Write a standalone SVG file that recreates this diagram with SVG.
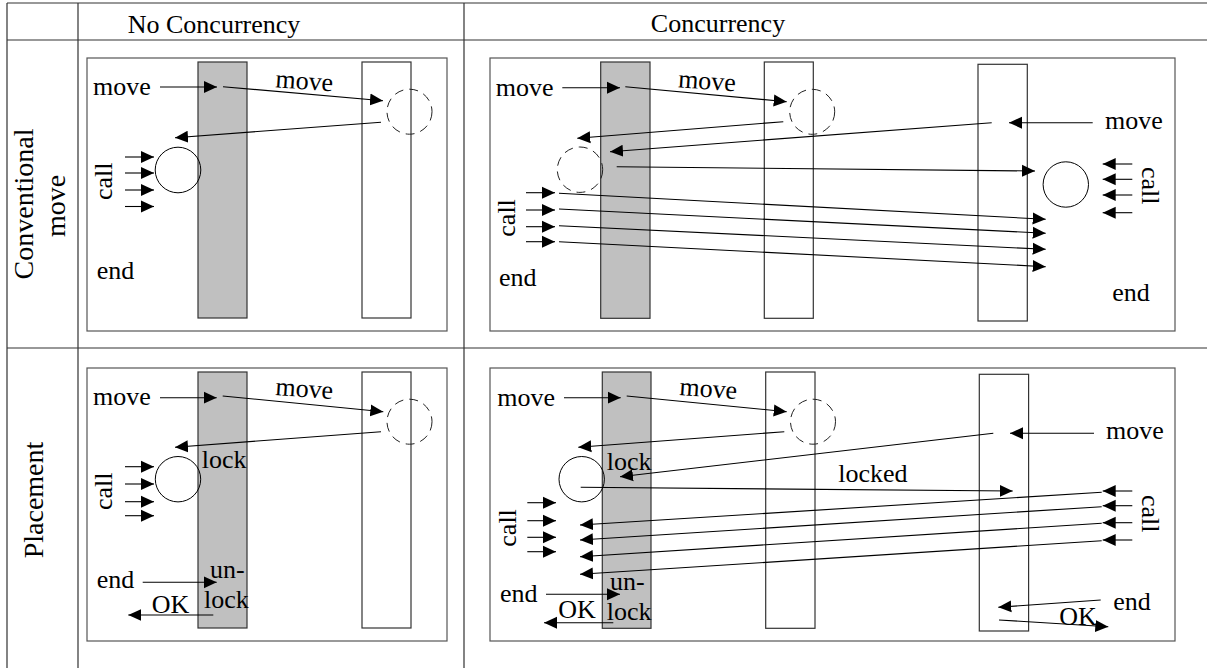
<svg xmlns="http://www.w3.org/2000/svg" width="1207" height="668" viewBox="0 0 1207 668" font-family="'Liberation Serif', 'Times New Roman', 'DejaVu Serif', serif">
<style>
text{font-family:'Liberation Serif','Times New Roman','DejaVu Serif',serif;font-size:26px;fill:#000}
.hdr{font-size:26px}
.row{font-size:28px}
.grid{stroke:#333;stroke-width:1.2;fill:none}
.panel{fill:#fff;stroke:#555;stroke-width:1.2}
.bar{fill:#c0c0c0;stroke:#333;stroke-width:1.2}
.wbar{fill:#fff;stroke:#333;stroke-width:1.2}
.circ{fill:none;stroke:#000;stroke-width:1}
.dcirc{fill:none;stroke:#222;stroke-width:1;stroke-dasharray:9,6}
.ar{stroke:#000;stroke-width:1.1;fill:none;marker-end:url(#ah)}
</style>
<defs>
<marker id="ah" markerUnits="userSpaceOnUse" markerWidth="14" markerHeight="13" refX="13" refY="6" orient="auto" viewBox="0 0 14 12">
<path d="M0,0 L13,6 L0,12 Z" fill="#000"/>
</marker>
</defs>
<rect width="1207" height="668" fill="#fff"/>
<g id="table">
<path class="grid" d="M7,3 H1207 M7,40 H1207 M7,348 H1207 M7,3 V668 M78,3 V668 M464,3 V668"/>
<text class="hdr" x="214" y="33" text-anchor="middle">No Concurrency</text>
<text class="hdr" x="718" y="32" text-anchor="middle">Concurrency</text>
<text class="row" transform="translate(33,204) rotate(-90)" text-anchor="middle">Conventional</text>
<text class="row" transform="translate(65,206) rotate(-90)" text-anchor="middle">move</text>
<text class="row" transform="translate(42.5,500) rotate(-90)" text-anchor="middle">Placement</text>
</g>

<g id="p1">
<rect class="panel" x="87" y="58" width="360" height="273"/>
<rect id="p1-bar1" class="bar" x="198" y="62" width="49" height="256"/>
<rect id="p1-bar2" class="wbar" x="362" y="62" width="49" height="256"/>
<circle id="p1-dc" class="dcirc" cx="409.5" cy="111.7" r="22.5"/>
<circle id="p1-c" class="circ" cx="178" cy="170" r="22.8"/>
<text x="93" y="95">move</text>
<text transform="translate(275,87.3) rotate(4)">move</text>
<text transform="translate(111.5,200) rotate(-90)">call</text>
<text x="96.7" y="279">end</text>
</g>
<g id="p1-connectors">
<path class="ar" d="M160,87 L217,87"/>
<path class="ar" d="M223,86.7 L383,100.7"/>
<path class="ar" d="M381,122.3 L175,137.7"/>
<path class="ar" d="M125,157 L154,157"/>
<path class="ar" d="M125,173 L154,173"/>
<path class="ar" d="M125,190 L154,190"/>
<path class="ar" d="M125,206.5 L154,206.5"/>
</g>

<g id="p2">
<rect class="panel" x="87" y="368" width="360" height="273"/>
<rect id="p2-bar1" class="bar" x="198" y="372" width="49" height="256"/>
<rect id="p2-bar2" class="wbar" x="362" y="372" width="49" height="256"/>
<circle id="p2-dc" class="dcirc" cx="409.5" cy="421.7" r="22.5"/>
<circle id="p2-c" class="circ" cx="178" cy="479.2" r="22.7"/>
<text x="93" y="405">move</text>
<text transform="translate(275,395) rotate(4)">move</text>
<text x="201.7" y="468.3">lock</text>
<text transform="translate(112,510) rotate(-90)">call</text>
<text x="96.7" y="588.3">end</text>
<text x="210" y="578.3">un-</text>
<text x="204" y="608.3">lock</text>
<text x="151.7" y="612.7">OK</text>
</g>
<g id="p2-connectors">
<path class="ar" d="M160,397.7 L216.7,397.7"/>
<path class="ar" d="M222.7,396 L383.3,411.7"/>
<path class="ar" d="M381,431.7 L175,447.3"/>
<path class="ar" d="M125,466.7 L154,466.7"/>
<path class="ar" d="M125,484 L154,484"/>
<path class="ar" d="M125,501.7 L154,501.7"/>
<path class="ar" d="M125,515.7 L154,515.7"/>
<path class="ar" d="M142.7,582.3 L216.7,582.3"/>
<path class="ar" d="M213.3,615 L128.3,615"/>
</g>

<g id="p3">
<rect class="panel" x="490" y="58" width="685" height="273"/>
<rect id="p3-bar1" class="bar" x="600.7" y="62" width="49.3" height="256.3"/>
<rect id="p3-bar2" class="wbar" x="764.3" y="62" width="49" height="256.3"/>
<rect id="p3-bar3" class="wbar" x="978" y="64.3" width="49.3" height="256.7"/>
<circle id="p3-dc1" class="dcirc" cx="812.2" cy="111.8" r="22.5"/>
<circle id="p3-dc2" class="dcirc" cx="580" cy="169.7" r="22.7"/>
<circle id="p3-c" class="circ" cx="1065.8" cy="184.5" r="22.7"/>
<text x="495.7" y="96">move</text>
<text transform="translate(677.7,87.3) rotate(4)">move</text>
<text x="1105" y="129">move</text>
<text transform="translate(515,236.7) rotate(-90)">call</text>
<text transform="translate(1142,167) rotate(90)">call</text>
<text x="499" y="285.7">end</text>
<text x="1112.3" y="300.7">end</text>
</g>
<g id="p3-connectors">
<path class="ar" d="M562.3,87.7 L620,87.7"/>
<path class="ar" d="M625.3,86.7 L786.7,101.7"/>
<path class="ar" d="M783.3,121.7 L577.3,138.3"/>
<path class="ar" d="M991.7,122.7 L610,151.7"/>
<path class="ar" d="M1092.7,122.7 L1009,122.7"/>
<path class="ar" d="M616.7,166.7 L1035,171"/>
<path class="ar" d="M1132.3,164 L1102.7,164"/>
<path class="ar" d="M1132.3,179.3 L1102.7,179.3"/>
<path class="ar" d="M1132.3,195 L1102.7,195"/>
<path class="ar" d="M1132.3,212.7 L1102.7,212.7"/>
<path class="ar" d="M526,192.7 L555,192.7"/>
<path class="ar" d="M526,210 L555,210"/>
<path class="ar" d="M526,226.7 L555,226.7"/>
<path class="ar" d="M526,241.7 L555,241.7"/>
<path class="ar" d="M559,193.3 L1045.7,219.3"/>
<path class="ar" d="M559,209 L1045.7,233.3"/>
<path class="ar" d="M559,225.7 L1045.7,249.3"/>
<path class="ar" d="M559,241.7 L1045.7,266.7"/>
</g>

<g id="p4">
<rect class="panel" x="490" y="368" width="685" height="273"/>
<rect id="p4-bar1" class="bar" x="602.3" y="372" width="48.7" height="256.3"/>
<rect id="p4-bar2" class="wbar" x="765.7" y="372" width="49.3" height="256.3"/>
<rect id="p4-bar3" class="wbar" x="979.3" y="374.3" width="49.3" height="256.7"/>
<circle id="p4-dc" class="dcirc" cx="813" cy="421.7" r="22.5"/>
<circle id="p4-c" class="circ" cx="581.7" cy="479.2" r="22.7"/>
<text x="497.3" y="405.7">move</text>
<text transform="translate(679,395) rotate(4)">move</text>
<text x="1106" y="439">move</text>
<text x="606.7" y="470">lock</text>
<text x="838.3" y="481.7">locked</text>
<text transform="translate(516,546.7) rotate(-90)">call</text>
<text transform="translate(1142,495) rotate(90)">call</text>
<text x="500" y="601.7">end</text>
<text x="610" y="590">un-</text>
<text x="606.7" y="620">lock</text>
<text x="558.3" y="618.3">OK</text>
<text x="1113.3" y="610">end</text>
<text x="1059.3" y="625">OK</text>
</g>
<g id="p4-connectors">
<path class="ar" d="M564,397.7 L620.7,397.7"/>
<path class="ar" d="M626.7,396 L786.7,411.7"/>
<path class="ar" d="M784.3,431.7 L578.3,447.3"/>
<path class="ar" d="M993.3,433.3 L620,476.7"/>
<path class="ar" d="M1094,433.3 L1010,433.3"/>
<path class="ar" d="M580.7,487.3 L1012.7,491"/>
<path class="ar" d="M1132.3,491 L1102.7,491"/>
<path class="ar" d="M1132.3,505.7 L1102.7,505.7"/>
<path class="ar" d="M1132.3,522.7 L1102.7,522.7"/>
<path class="ar" d="M1132.3,540 L1102.7,540"/>
<path class="ar" d="M1101.7,492.3 L580,525"/>
<path class="ar" d="M1101.7,506.7 L580,540"/>
<path class="ar" d="M1101.7,523.3 L580,556.7"/>
<path class="ar" d="M1101.7,540.7 L580,574.3"/>
<path class="ar" d="M527.3,502.7 L556,502.7"/>
<path class="ar" d="M527.3,520.7 L556,520.7"/>
<path class="ar" d="M527.3,537.3 L556,537.3"/>
<path class="ar" d="M527.3,551.7 L556,551.7"/>
<path class="ar" d="M546,594.3 L620,594.3"/>
<path class="ar" d="M613.3,622.7 L544,622.7"/>
<path class="ar" d="M1100.7,600 L998.3,607.3"/>
<path class="ar" d="M999,620 L1108.3,626.7"/>
</g>
</svg>
